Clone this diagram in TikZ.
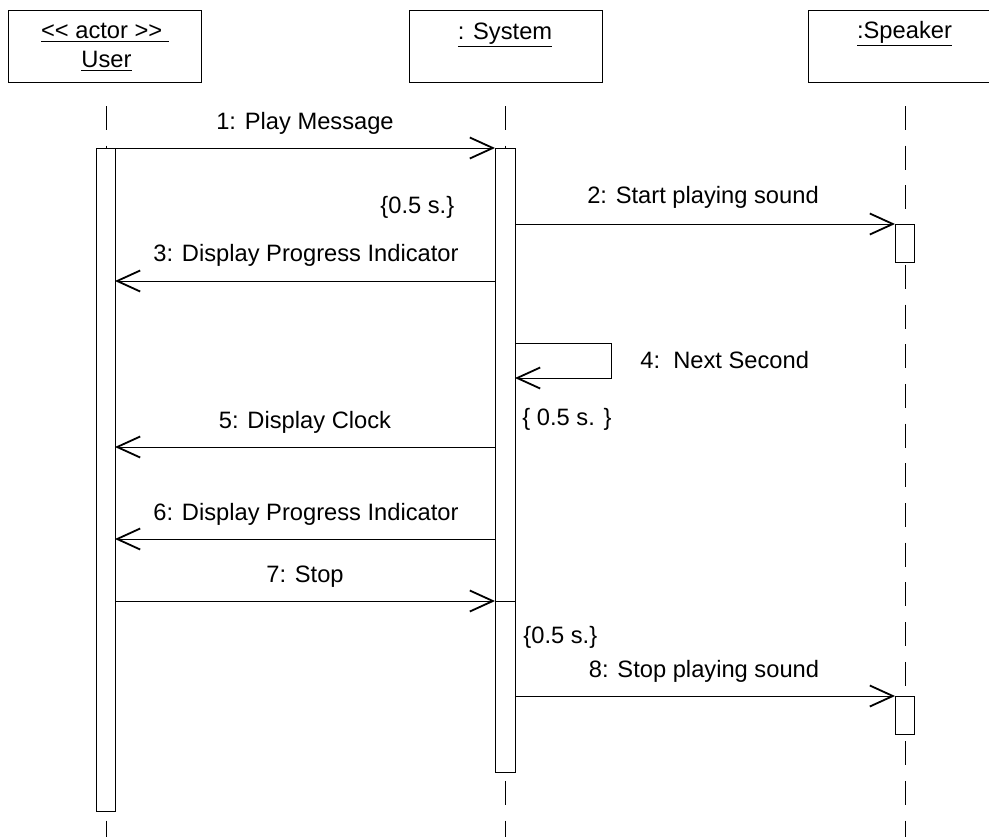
\documentclass[tikz,border=0pt]{standalone}
\usepackage{fontspec}
\setmainfont{Liberation Sans}
\usetikzlibrary{arrows.meta}
\begin{document}
\begin{tikzpicture}[x=0.5pt,y=-0.5pt,
  font=\fontsize{11.85}{14}\selectfont,
  head/.style={draw, line width=0.5pt, minimum width=96.5pt, minimum height=36pt, inner sep=0pt},
  lifeline/.style={line width=0.5pt, dash pattern=on 12pt off 7.85pt},
  act/.style={draw, fill=white, line width=0.5pt},
  msg/.style={line width=0.5pt, -{Straight Barb[length=11.5pt,width=10.5pt,line width=0.9pt]}},
  lbl/.style={anchor=base, inner sep=0pt},
  note/.style={anchor=base west, inner sep=0pt}]
\useasboundingbox (0,0) rectangle (989,836);

% heads
\node[head] (huser) at (104.5,46) {};
\node[head] (hsys) at (505.5,46) {};
\node[head] (hspk) at (904.5,46) {};
\node[lbl] (tua) at (105,38) {\underline{<{}< actor >{}>\ }};
\node[lbl] (tub) at (106.5,67) {\underline{User}};
\node[lbl] (tsys) at (505,39) {\underline{: System}};
\node[lbl] (tspk) at (904.5,38) {\underline{:Speaker}};

% lifelines
\coordinate (uTop) at (106,106);   \coordinate (uBot) at (106,840);
\coordinate (sTop) at (505.5,106); \coordinate (sBot) at (505.5,840);
\coordinate (kTop) at (905,106);   \coordinate (kBot) at (905,840);
\draw[lifeline] (uTop) -- (uBot);
\draw[lifeline] (sTop) -- (sBot);
\draw[lifeline] (kTop) -- (kBot);

% activations
\draw[act] (96,148) rectangle (115,811);
\draw[act] (495,148) rectangle (515,601);
\draw[act] (495,601) rectangle (515,772);
\draw[act] (895,224) rectangle (914,262);
\draw[act] (895,696) rectangle (914,734);

% message endpoints
\coordinate (m1a) at (115,148); \coordinate (m1b) at (495,148);
\coordinate (m2a) at (515,224); \coordinate (m2b) at (895,224);
\coordinate (m3a) at (495,281); \coordinate (m3b) at (115,281);
\coordinate (m4a) at (515,343); \coordinate (m4b) at (611,343);
\coordinate (m4c) at (611,378); \coordinate (m4d) at (515,378);
\coordinate (m5a) at (495,447); \coordinate (m5b) at (115,447);
\coordinate (m6a) at (495,539); \coordinate (m6b) at (115,539);
\coordinate (m7a) at (115,601); \coordinate (m7b) at (495,601);
\coordinate (m8a) at (515,696); \coordinate (m8b) at (895,696);

\draw[msg] (m1a) -- (m1b);
\draw[msg] (m2a) -- (m2b);
\draw[msg] (m3a) -- (m3b);
\draw[msg] (m4a) -- (m4b) -- (m4c) -- (m4d);
\draw[msg] (m5a) -- (m5b);
\draw[msg] (m6a) -- (m6b);
\draw[msg] (m7a) -- (m7b);
\draw[msg] (m8a) -- (m8b);

% labels
\node[lbl] (l1) at (305,129) {1: Play Message};
\node[lbl] (l2) at (703,203) {2: Start playing sound};
\node[lbl] (l3) at (306,261) {3: Display Progress Indicator};
\node[note] (l4) at (640,368) {4:\ \ Next Second};
\node[lbl] (l5) at (305,428) {5: Display Clock};
\node[lbl] (l6) at (306,520) {6: Display Progress Indicator};
\node[lbl] (l7) at (305,582) {7: Stop};
\node[lbl] (l8) at (704,677) {8: Stop playing sound};
\node[note] (n1) at (380,213) {\{0.5 s.\}};
\node[note] (n2) at (522,425) {\{ 0.5 s. \}};
\node[note] (n3) at (523,643) {\{0.5 s.\}};
\end{tikzpicture}
\end{document}
